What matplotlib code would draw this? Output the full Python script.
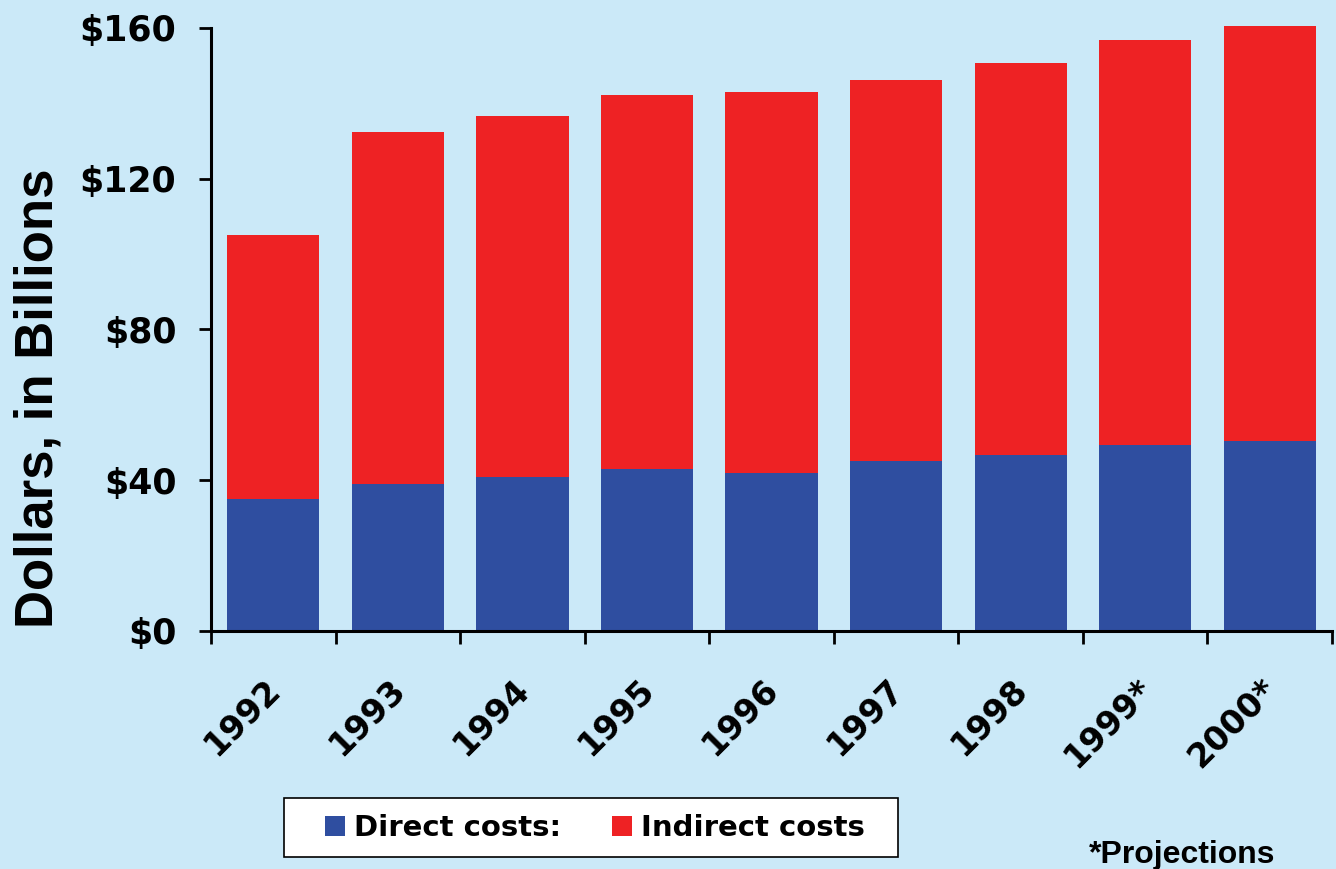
import matplotlib.pyplot as plt
from matplotlib.patches import Rectangle
from matplotlib.transforms import ScaledTranslation
import numpy as np

years = ["1992", "1993", "1994", "1995", "1996", "1997", "1998", "1999*", "2000*"]
direct = [34.9, 39.1, 40.7, 42.9, 41.8, 45.0, 46.6, 49.3, 50.3]
total = [104.9, 132.3, 136.6, 142.2, 143.0, 146.2, 150.7, 156.8, 160.4]
indirect = [t - d for t, d in zip(total, direct)]
yticks = [0, 40, 80, 120, 160]

bg = "#CBE9F8"
blue = "#2F4EA0"
red = "#EE2224"

fig = plt.figure(figsize=(13.36, 8.69), dpi=100, facecolor=bg)
ax = fig.add_axes([0.158, 0.274, 0.839, 0.694])
ax.set_facecolor(bg)

x = np.arange(len(years))
ax.bar(x, direct, width=0.74, color=blue, label="Direct costs:", clip_on=False)
ax.bar(x, indirect, width=0.74, bottom=direct, color=red, label="Indirect costs", clip_on=False)

ax.set_xlim(-0.5, len(years) - 0.5)
ax.set_ylim(0, 160)

for s in ["top", "right"]:
    ax.spines[s].set_visible(False)
for s in ["left", "bottom"]:
    ax.spines[s].set_linewidth(2.2)

ax.set_yticks(yticks)
ax.set_yticklabels(["$" + str(v) for v in yticks], fontsize=25, fontweight="bold")
ax.tick_params(axis="y", length=9, width=2, pad=16, direction="out")

# ticks sit on category boundaries, labels at bar centres
ax.set_xticks(np.arange(len(years) + 1) - 0.5)
ax.set_xticklabels([])
ax.tick_params(axis="x", which="major", length=9, width=2, direction="out")
ax.set_xticks(x, minor=True)
ax.set_xticklabels(years, minor=True, rotation=45, ha="right", va="top",
                   rotation_mode="anchor", fontsize=24, fontweight="bold")
ax.tick_params(axis="x", which="minor", length=0, pad=30)
shift = ScaledTranslation(-7 / 72, 0, fig.dpi_scale_trans)
for lab in ax.get_xticklabels(minor=True):
    lab.set_transform(lab.get_transform() + shift)

ax.set_ylabel("Dollars, in Billions", family="Liberation Sans", fontsize=38,
              fontweight="bold")
ax.yaxis.set_label_coords(-0.132, 0.385)

# legend box drawn separately so its size matches the original
fig.patches.append(Rectangle((0.2126, 0.0138), 0.4596, 0.0679, transform=fig.transFigure,
                             facecolor="white", edgecolor="black", linewidth=1.2, zorder=0))
fig.legend(loc="center left", bbox_to_anchor=(0.243, 0.047), ncol=2,
           prop={"size": 21, "weight": "bold"}, frameon=False,
           handlelength=0.7, handleheight=0.7, handletextpad=0.3,
           columnspacing=1.75, borderpad=0, borderaxespad=0)

fig.text(0.955, 0.016, "*Projections", family="Liberation Sans", fontsize=23,
         fontweight="bold", ha="right", va="center")

fig.savefig("out.png", dpi=100, facecolor=bg)
